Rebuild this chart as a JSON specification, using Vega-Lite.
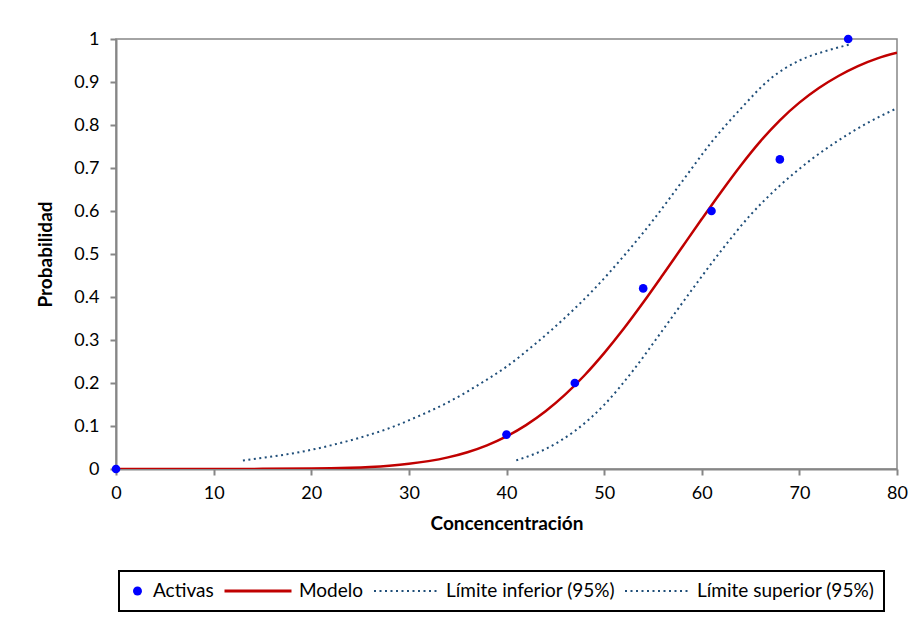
{
  "$schema": "https://vega.github.io/schema/vega-lite/v6.json",
  "width": 781,
  "height": 430,
  "autosize": {"type": "none"},
  "padding": {"left": 116, "top": 39, "right": 24, "bottom": 152},
  "background": "white",
  "data": {
    "values": [
      {"serie": "Activas", "x": 0, "y": 0},
      {"serie": "Activas", "x": 40, "y": 0.08},
      {"serie": "Activas", "x": 47, "y": 0.2},
      {"serie": "Activas", "x": 54, "y": 0.42},
      {"serie": "Activas", "x": 61, "y": 0.6},
      {"serie": "Activas", "x": 68, "y": 0.72},
      {"serie": "Activas", "x": 75, "y": 1},
      {"serie": "Modelo", "x": 0, "y": 0},
      {"serie": "Modelo", "x": 5, "y": 0},
      {"serie": "Modelo", "x": 10, "y": 0.0001},
      {"serie": "Modelo", "x": 15, "y": 0.0003},
      {"serie": "Modelo", "x": 20, "y": 0.0011},
      {"serie": "Modelo", "x": 22, "y": 0.0018},
      {"serie": "Modelo", "x": 24, "y": 0.003},
      {"serie": "Modelo", "x": 26, "y": 0.0049},
      {"serie": "Modelo", "x": 28, "y": 0.0078},
      {"serie": "Modelo", "x": 30, "y": 0.0121},
      {"serie": "Modelo", "x": 32, "y": 0.0183},
      {"serie": "Modelo", "x": 34, "y": 0.027},
      {"serie": "Modelo", "x": 36, "y": 0.039},
      {"serie": "Modelo", "x": 38, "y": 0.055},
      {"serie": "Modelo", "x": 40, "y": 0.0758},
      {"serie": "Modelo", "x": 42, "y": 0.102},
      {"serie": "Modelo", "x": 44, "y": 0.1342},
      {"serie": "Modelo", "x": 46, "y": 0.1729},
      {"serie": "Modelo", "x": 48, "y": 0.218},
      {"serie": "Modelo", "x": 50, "y": 0.2694},
      {"serie": "Modelo", "x": 52, "y": 0.326},
      {"serie": "Modelo", "x": 54, "y": 0.3871},
      {"serie": "Modelo", "x": 56, "y": 0.4511},
      {"serie": "Modelo", "x": 58, "y": 0.5163},
      {"serie": "Modelo", "x": 60, "y": 0.5812},
      {"serie": "Modelo", "x": 62, "y": 0.645},
      {"serie": "Modelo", "x": 64, "y": 0.706},
      {"serie": "Modelo", "x": 66, "y": 0.762},
      {"serie": "Modelo", "x": 68, "y": 0.811},
      {"serie": "Modelo", "x": 70, "y": 0.852},
      {"serie": "Modelo", "x": 72, "y": 0.886},
      {"serie": "Modelo", "x": 74, "y": 0.914},
      {"serie": "Modelo", "x": 76, "y": 0.937},
      {"serie": "Modelo", "x": 78, "y": 0.955},
      {"serie": "Modelo", "x": 80, "y": 0.968},
      {"serie": "Límite superior (95%)", "x": 13, "y": 0.02},
      {"serie": "Límite superior (95%)", "x": 16, "y": 0.029},
      {"serie": "Límite superior (95%)", "x": 19, "y": 0.04},
      {"serie": "Límite superior (95%)", "x": 22, "y": 0.055},
      {"serie": "Límite superior (95%)", "x": 25, "y": 0.073},
      {"serie": "Límite superior (95%)", "x": 28, "y": 0.095},
      {"serie": "Límite superior (95%)", "x": 31, "y": 0.123},
      {"serie": "Límite superior (95%)", "x": 34, "y": 0.155},
      {"serie": "Límite superior (95%)", "x": 37, "y": 0.194},
      {"serie": "Límite superior (95%)", "x": 40, "y": 0.238},
      {"serie": "Límite superior (95%)", "x": 43, "y": 0.292},
      {"serie": "Límite superior (95%)", "x": 46, "y": 0.352},
      {"serie": "Límite superior (95%)", "x": 49, "y": 0.419},
      {"serie": "Límite superior (95%)", "x": 52, "y": 0.495},
      {"serie": "Límite superior (95%)", "x": 55, "y": 0.578},
      {"serie": "Límite superior (95%)", "x": 58, "y": 0.669},
      {"serie": "Límite superior (95%)", "x": 61, "y": 0.76},
      {"serie": "Límite superior (95%)", "x": 64, "y": 0.838},
      {"serie": "Límite superior (95%)", "x": 67, "y": 0.907},
      {"serie": "Límite superior (95%)", "x": 70, "y": 0.95},
      {"serie": "Límite superior (95%)", "x": 73, "y": 0.974},
      {"serie": "Límite superior (95%)", "x": 75.3, "y": 0.988},
      {"serie": "Límite inferior (95%)", "x": 41, "y": 0.02},
      {"serie": "Límite inferior (95%)", "x": 44, "y": 0.0465},
      {"serie": "Límite inferior (95%)", "x": 47, "y": 0.0885},
      {"serie": "Límite inferior (95%)", "x": 50, "y": 0.149},
      {"serie": "Límite inferior (95%)", "x": 53, "y": 0.23},
      {"serie": "Límite inferior (95%)", "x": 56, "y": 0.323},
      {"serie": "Límite inferior (95%)", "x": 59, "y": 0.417},
      {"serie": "Límite inferior (95%)", "x": 62, "y": 0.508},
      {"serie": "Límite inferior (95%)", "x": 65, "y": 0.591},
      {"serie": "Límite inferior (95%)", "x": 68, "y": 0.659},
      {"serie": "Límite inferior (95%)", "x": 71, "y": 0.716},
      {"serie": "Límite inferior (95%)", "x": 74, "y": 0.764},
      {"serie": "Límite inferior (95%)", "x": 77, "y": 0.805},
      {"serie": "Límite inferior (95%)", "x": 80, "y": 0.839}
    ]
  },
  "encoding": {
    "x": {
      "field": "x", "type": "quantitative",
      "scale": {"domain": [0, 80], "nice": false},
      "axis": {
        "title": "Concencentración",
        "values": [0, 10, 20, 30, 40, 50, 60, 70, 80],
        "format": "d",
        "labelFlush": false,
        "labelPadding": 9,
        "titlePadding": 12
      }
    },
    "y": {
      "field": "y", "type": "quantitative",
      "scale": {"domain": [0, 1], "nice": false},
      "axis": {
        "title": "Probabilidad",
        "values": [0, 0.1, 0.2, 0.3, 0.4, 0.5, 0.6, 0.7, 0.8, 0.9, 1],
        "format": "~g",
        "labelFlush": false,
        "labelPadding": 11,
        "titlePadding": 18
      }
    },
    "color": {
      "field": "serie", "type": "nominal",
      "scale": {
        "domain": ["Activas", "Modelo", "Límite inferior (95%)", "Límite superior (95%)"],
        "range": ["#0000FF", "#C00000", "#1F4E79", "#1F4E79"]
      },
      "legend": {
        "title": null,
        "orient": "none",
        "legendX": 3,
        "legendY": 532,
        "direction": "horizontal",
        "clipHeight": 22,
        "labelFont": "Lato",
        "labelFontSize": 19,
        "labelColor": "#000000",
        "labelLimit": 0,
        "labelOffset": 6,
        "columnPadding": 9,
        "padding": 9,
        "strokeColor": "#000000",
        "symbolSize": 4225,
        "encode": {
          "legend": {"update": {"strokeWidth": {"value": 2}}},
          "labels": {
            "update": {
              "x": {"signal": "datum.value === 'Activas' ? 25 : (datum.value === 'Modelo' ? 76 : 73)"}
            }
          },
          "symbols": {
            "update": {
              "x": {"signal": "datum.value === 'Activas' ? 9.5 : (datum.value === 'Modelo' ? 35 : 33.5)"},
              "shape": {"signal": "(datum === 'Activas' || datum.value === 'Activas') ? 'circle' : 'stroke'"},
              "size": {"signal": "(datum === 'Activas' || datum.value === 'Activas') ? 80 : ((datum === 'Modelo' || datum.value === 'Modelo') ? 4489 : 4225)"},
              "fill": {"signal": "(datum === 'Activas' || datum.value === 'Activas') ? '#0000FF' : 'transparent'"},
              "stroke": {"signal": "(datum === 'Activas' || datum.value === 'Activas') ? 'transparent' : scale('color', datum.value)"},
              "strokeWidth": {"signal": "(datum === 'Activas' || datum.value === 'Activas') ? 0 : ((datum === 'Modelo' || datum.value === 'Modelo') ? 3 : 2)"},
              "strokeDash": {"signal": "(datum === 'Modelo' || datum.value === 'Modelo' || datum === 'Activas' || datum.value === 'Activas') ? [1, 0] : [2, 3.5]"},
              "opacity": {"value": 1}
            }
          }
        }
      }
    }
  },
  "layer": [
    {
      "transform": [{"filter": "indexof(datum.serie, 'Límite') >= 0"}],
      "mark": {"type": "line", "strokeWidth": 2, "strokeDash": [2, 3.5], "interpolate": "monotone", "clip": true}
    },
    {
      "transform": [{"filter": "datum.serie === 'Modelo'"}],
      "mark": {"type": "line", "strokeWidth": 2.5, "interpolate": "monotone", "clip": true}
    },
    {
      "transform": [{"filter": "datum.serie === 'Activas'"}],
      "mark": {"type": "point", "filled": true, "opacity": 1, "size": 75, "clip": false}
    }
  ],
  "config": {
    "font": "Lato",
    "view": {"stroke": "#868686", "strokeWidth": 1.5},
    "axis": {
      "grid": false,
      "domainColor": "#868686",
      "domainWidth": 2,
      "tickColor": "#868686",
      "tickWidth": 2,
      "tickSize": 6,
      "labelFont": "Lato",
      "labelFontSize": 18,
      "labelColor": "#000000",
      "titleFont": "Lato",
      "titleFontSize": 19,
      "titleFontWeight": "bold",
      "titleColor": "#000000"
    }
  }
}
